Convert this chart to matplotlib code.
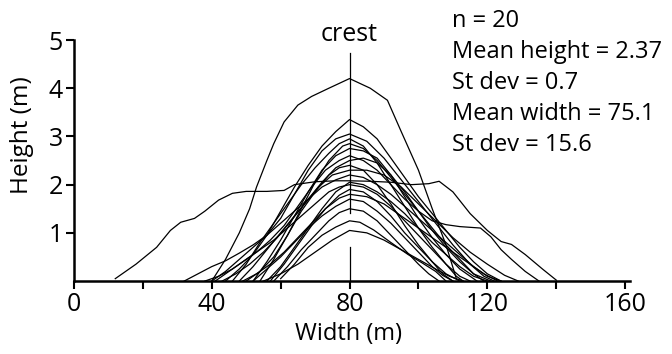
import matplotlib
matplotlib.use("Agg")
import matplotlib.pyplot as plt

plt.rcParams['font.family'] = ['Open Sans', 'DejaVu Sans']

# dune cross-profiles, all aligned on the crest at x = 80 m
profiles = [
    ([40, 44, 48, 51, 53, 56, 58, 61, 65, 69, 74, 80, 86, 91, 95, 100, 104, 108, 111],
     [0, 0.45, 1.0, 1.5, 1.95, 2.5, 2.85, 3.3, 3.65, 3.83, 4.0, 4.2, 4.0, 3.75, 3.1, 2.3, 1.5, 0.75, 0.05]),
    ([12, 18, 24, 28, 31, 35, 38, 42, 46, 50, 56, 61, 64, 70, 76, 80, 86, 92, 98, 103, 106, 110, 115, 120, 124, 127, 131, 136, 140],
     [0.05, 0.35, 0.7, 1.05, 1.22, 1.3, 1.45, 1.68, 1.82, 1.86, 1.86, 1.88, 2.0, 2.06, 2.08, 2.08, 2.07, 2.05, 2.0, 2.02, 2.07, 1.85, 1.4, 1.05, 0.82, 0.76, 0.55, 0.25, 0.02]),
    ([60, 64, 68, 72, 76, 80, 83, 87, 92, 97, 101, 105, 108],
     [0.05, 0.35, 0.7, 0.95, 1.12, 1.25, 1.22, 1.06, 0.8, 0.55, 0.38, 0.2, 0]),
    ([44, 48, 52, 56, 60, 64, 68, 72, 76, 80, 84, 88, 92, 96, 100, 104, 108, 112, 116, 120, 124],
     [0, 0.25, 0.55, 0.95, 1.45, 1.95, 2.4, 2.8, 3.1, 3.35, 3.2, 2.95, 2.55, 2.15, 1.75, 1.4, 1.05, 0.7, 0.4, 0.15, 0]),
    ([32, 36, 40, 44, 48, 52, 56, 60, 64, 68, 72, 76, 80, 85, 90, 95, 100, 105, 110, 115, 119, 122],
     [0, 0.15, 0.3, 0.42, 0.58, 0.75, 0.95, 1.3, 1.8, 2.3, 2.7, 2.95, 3.05, 2.9, 2.55, 2.1, 1.65, 1.2, 0.75, 0.35, 0.1, 0]),
    ([46, 50, 54, 58, 62, 66, 70, 74, 77, 80, 84, 88, 92, 96, 100, 104, 108, 111, 113],
     [0, 0.35, 0.8, 1.2, 1.6, 2.0, 2.35, 2.65, 2.85, 2.95, 2.8, 2.45, 2.0, 1.55, 1.1, 0.7, 0.35, 0.1, 0]),
    ([50, 54, 58, 62, 66, 70, 74, 78, 80, 84, 88, 92, 96, 100, 104, 108, 112, 116, 119],
     [0, 0.2, 0.5, 0.95, 1.5, 2.05, 2.5, 2.8, 2.85, 2.75, 2.5, 2.15, 1.8, 1.45, 1.1, 0.75, 0.45, 0.15, 0]),
    ([52, 56, 60, 64, 68, 72, 76, 80, 84, 88, 92, 96, 100, 104, 108, 112, 117],
     [0, 0.4, 0.85, 1.35, 1.85, 2.3, 2.6, 2.75, 2.7, 2.55, 2.2, 1.75, 1.3, 0.9, 0.55, 0.25, 0]),
    ([41, 45, 49, 53, 57, 61, 65, 69, 73, 77, 80, 84, 88, 92, 96, 100, 104, 108, 112, 118, 121, 124, 127, 131, 135],
     [0, 0.2, 0.4, 0.6, 0.85, 1.15, 1.55, 1.95, 2.3, 2.5, 2.6, 2.5, 2.3, 2.0, 1.7, 1.45, 1.25, 1.17, 1.13, 1.1, 0.92, 0.65, 0.45, 0.2, 0]),
    ([48, 52, 56, 60, 64, 68, 72, 76, 80, 84, 88, 92, 96, 100, 104, 108, 112, 116, 121],
     [0, 0.3, 0.65, 1.0, 1.35, 1.7, 2.05, 2.35, 2.5, 2.55, 2.45, 2.2, 1.85, 1.45, 1.05, 0.7, 0.4, 0.15, 0]),
    ([54, 58, 62, 66, 70, 74, 77, 80, 84, 88, 92, 96, 100, 104, 107, 110],
     [0, 0.45, 0.95, 1.45, 1.85, 2.2, 2.35, 2.4, 2.3, 2.0, 1.6, 1.15, 0.75, 0.4, 0.15, 0]),
    ([43, 47, 51, 55, 59, 63, 67, 71, 75, 80, 85, 90, 95, 100, 105, 110, 115, 120, 125, 129],
     [0, 0.15, 0.35, 0.6, 0.9, 1.25, 1.6, 1.95, 2.2, 2.3, 2.3, 2.2, 1.95, 1.6, 1.25, 0.9, 0.6, 0.35, 0.12, 0]),
    ([56, 60, 64, 68, 72, 76, 80, 84, 88, 92, 96, 100, 104, 108, 112, 116, 120],
     [0, 0.3, 0.7, 1.1, 1.5, 1.85, 2.05, 2.0, 1.85, 1.65, 1.4, 1.1, 0.8, 0.55, 0.3, 0.1, 0]),
    ([38, 42, 46, 50, 54, 58, 62, 66, 70, 74, 77, 80, 84, 88, 92, 96, 100, 104, 108, 112, 115],
     [0, 0.1, 0.25, 0.45, 0.65, 0.85, 1.1, 1.35, 1.6, 1.85, 1.95, 2.0, 1.95, 1.8, 1.55, 1.25, 0.95, 0.65, 0.35, 0.1, 0]),
    ([57, 61, 65, 69, 73, 77, 80, 84, 88, 92, 96, 100, 104, 108, 112],
     [0, 0.35, 0.75, 1.15, 1.5, 1.78, 1.9, 1.85, 1.65, 1.35, 1.0, 0.7, 0.4, 0.15, 0]),
    ([49, 53, 57, 61, 65, 69, 73, 77, 80, 85, 90, 95, 100, 105, 110, 115, 119, 123],
     [0, 0.15, 0.35, 0.6, 0.9, 1.2, 1.5, 1.72, 1.8, 1.75, 1.6, 1.35, 1.1, 0.85, 0.6, 0.35, 0.15, 0]),
    ([52, 56, 60, 64, 68, 72, 76, 80, 84, 88, 92, 96, 100, 104, 107, 110],
     [0, 0.25, 0.5, 0.8, 1.1, 1.35, 1.55, 1.7, 1.65, 1.45, 1.2, 0.9, 0.6, 0.3, 0.12, 0]),
    ([58, 62, 66, 70, 74, 77, 80, 84, 88, 92, 96, 100, 103, 106],
     [0, 0.3, 0.65, 0.95, 1.25, 1.42, 1.5, 1.45, 1.25, 0.95, 0.65, 0.35, 0.15, 0]),
    ([55, 60, 65, 70, 75, 80, 85, 90, 95, 100, 105, 109, 113],
     [0, 0.15, 0.35, 0.6, 0.85, 1.05, 1.0, 0.85, 0.65, 0.45, 0.25, 0.1, 0]),
    ([40, 44, 48, 52, 56, 60, 64, 68, 72, 76, 80, 84, 88, 92, 96, 100, 104, 108, 112, 116, 120, 124],
     [0, 0.2, 0.45, 0.7, 0.95, 1.2, 1.45, 1.7, 1.95, 2.1, 2.2, 2.15, 2.0, 1.8, 1.55, 1.3, 1.05, 0.8, 0.55, 0.3, 0.1, 0]),
]

stats_lines = ["n = 20", "Mean height = 2.37", "St dev = 0.7",
               "Mean width = 75.1", "St dev = 15.6"]
crest_x = 80
x_major = [0, 40, 80, 120, 160]
x_minor = [20, 60, 100, 140]
y_major = [1, 2, 3, 4, 5]

fig = plt.figure(figsize=(6.72, 3.54), dpi=100)
ax = fig.add_axes([0.110, 0.206, 0.828, 0.681])

for xs, ys in profiles:
    ax.plot(xs, ys, color='black', lw=0.9, solid_joinstyle='round')

# crest marker
ax.plot([crest_x, crest_x], [1.42, 4.73], color='black', lw=0.9, clip_on=False)
ax.plot([crest_x, crest_x], [0, 0.71], color='black', lw=0.9)
ax.text(crest_x, 4.98, "crest", ha='center', va='baseline', fontsize=18)

ax.set_xlim(0, 161.5)
ax.set_ylim(0, 5)
ax.set_xticks(x_major)
ax.set_xticks(x_minor, minor=True)
ax.set_yticks(y_major)
ax.tick_params(axis='both', which='both', direction='out', width=1.5,
               labelsize=18, color='black')
ax.tick_params(axis='both', which='major', length=6, pad=2)
ax.tick_params(axis='x', which='minor', length=6)

for s in ['top', 'right']:
    ax.spines[s].set_visible(False)
for s in ['left', 'bottom']:
    ax.spines[s].set_linewidth(1.8)

# axis titles placed where the reference has them
fig.text(348 / 672, 1 - 334 / 354, "Width (m)", fontsize=17,
         ha='center', va='center')
fig.text(22 / 672, 1 - 135 / 354, "Height (m)", fontsize=17.5,
         ha='center', va='center', rotation=90)

for i, line in enumerate(stats_lines):
    fig.text(452 / 672, 1 - (21 + i * 31) / 354, line, fontsize=17,
             ha='left', va='center')

fig.savefig("out.png", dpi=100, facecolor='white')
